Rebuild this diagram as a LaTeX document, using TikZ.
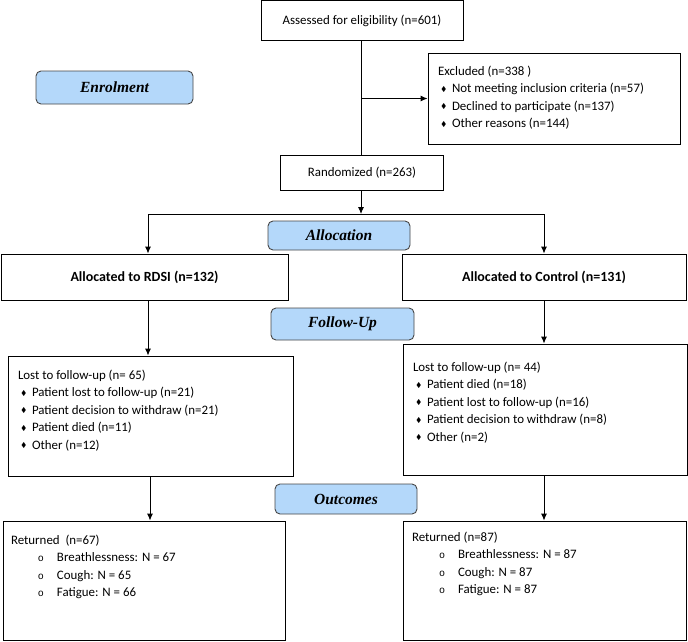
\documentclass[tikz,border=0pt]{standalone}
\usepackage{amssymb}
\usepackage{fontspec}
\setmainfont{Carlito}
\newfontfamily\stagefont{Liberation Serif}
\newfontfamily\bulfont{Liberation Mono}
\usetikzlibrary{arrows.meta,positioning}
\definecolor{stageblue}{RGB}{180,216,250}
\definecolor{stageline}{RGB}{70,70,70}
\tikzstyle{box}=[draw, line width=0.9pt, inner sep=0pt, align=center, font=\fontsize{12.9}{15}\selectfont]
\tikzstyle{alloc}=[box, font=\fontsize{14}{16}\selectfont\bfseries]
\tikzstyle{lst}=[draw, line width=0.9pt, inner xsep=10pt, inner ysep=0pt, font=\fontsize{12.9}{17.6}\selectfont]
\tikzstyle{stage}=[draw=stageline, fill=stageblue, rounded corners=5pt, line width=0.9pt, inner sep=0pt, font=\stagefont\fontsize{15.5}{18}\selectfont\bfseries\itshape]
\newcommand{\dia}{\hspace*{3pt}\makebox[11pt][l]{\raisebox{1.5pt}{\fontsize{7}{7}\selectfont$\blacklozenge$}}}
\newcommand{\circb}{\hspace*{27pt}\makebox[19pt][l]{\bulfont\fontsize{10}{10}\selectfont o}}

\begin{document}
\begin{tikzpicture}[x=1pt,y=-1pt,>={Latex[length=7pt,width=6pt]}]
\useasboundingbox (0,0) rectangle (688,641);
% enrolment
\node [box, minimum width=202pt, minimum height=40pt] (assess) at (362,20.5) {Assessed for eligibility (n=601)};
\node [stage, minimum width=157pt, minimum height=33pt] (enrol) at (114.5,87.5) {Enrolment};
\node [lst] (excl) at (554,98.5) {\parbox[c][91pt][t]{232pt}{\rule{0pt}{22pt}Excluded (n=338 )\\
  \dia Not meeting inclusion criteria (n=57)\\
  \dia Declined to participate (n=137)\\
  \dia Other reasons (n=144)}};
\node [box, minimum width=163pt, minimum height=35pt] (rand) at (362,172.5) {Randomized (n=263)};
% allocation
\node [stage, minimum width=142pt, minimum height=29pt] (alloc) at (339,235.5) {Allocation};
\node [alloc, minimum width=287pt, minimum height=46pt] (rdsi) at (144.5,277) {Allocated to RDSI (n=132)};
\node [alloc, minimum width=284pt, minimum height=46pt] (ctrl) at (544,277) {Allocated to Control (n=131)};
% follow-up
\node [stage, minimum width=143pt, minimum height=32pt] (follow) at (342.5,324) {Follow-Up};
\node [lst] (lostL) at (150.5,416) {\parbox[c][120pt][t]{265pt}{\rule{0pt}{23pt}Lost to follow-up (n= 65)\\
  \dia Patient lost to follow-up (n=21)\\
  \dia Patient decision to withdraw (n=21)\\
  \dia Patient died (n=11)\\
  \dia Other (n=12)}};
\node [lst] (lostR) at (545.25,409.5) {\parbox[c][131pt][t]{264.5pt}{\rule{0pt}{27pt}Lost to follow-up (n= 44)\\
  \dia Patient died (n=18)\\
  \dia Patient lost to follow-up (n=16)\\
  \dia Patient decision to withdraw (n=8)\\
  \dia Other (n=2)}};
% outcomes
\node [stage, minimum width=142pt, minimum height=30pt] (outc) at (346,499) {Outcomes};
\node [lst, inner xsep=8pt] (retL) at (144,580.5) {\parbox[c][119pt][t]{266pt}{\rule{0pt}{23pt}Returned~ (n=67)\\
  \circb Breathlessness: N = 67\\
  \circb Cough: N = 65\\
  \circb Fatigue: N = 66}};
\node [lst, inner xsep=9pt] (retR) at (544.5,580.5) {\parbox[c][119pt][t]{265pt}{\rule{0pt}{20pt}Returned (n=87)\\
  \circb Breathlessness: N = 87\\
  \circb Cough: N = 87\\
  \circb Fatigue: N = 87}};
\coordinate (exc) at (361,98.5);
\coordinate (split) at (361,214);
\coordinate (lsplit) at (148,214);
\coordinate (rsplit) at (544,214);
\draw [line width=0.9pt] (assess.south -| split) -- (rand.north -| split);
\draw [line width=0.9pt,->] (exc) -- (excl.west);
\draw [line width=0.9pt,->] (rand.south -| split) -- (split);
\draw [line width=0.9pt] (lsplit) -- (rsplit);
\draw [line width=0.9pt,->] (lsplit) -- (lsplit |- rdsi.north);
\draw [line width=0.9pt,->] (rsplit) -- (rsplit |- ctrl.north);
\draw [line width=0.9pt,->] (lsplit |- rdsi.south) -- (lsplit |- lostL.north);
\draw [line width=0.9pt,->] (rsplit |- ctrl.south) -- (rsplit |- lostR.north);
\draw [line width=0.9pt,->] ([xshift=2pt]lsplit |- lostL.south) -- ([xshift=2pt]lsplit |- retL.north);
\draw [line width=0.9pt,->] (rsplit |- lostR.south) -- (rsplit |- retR.north);
\end{tikzpicture}
\end{document}
